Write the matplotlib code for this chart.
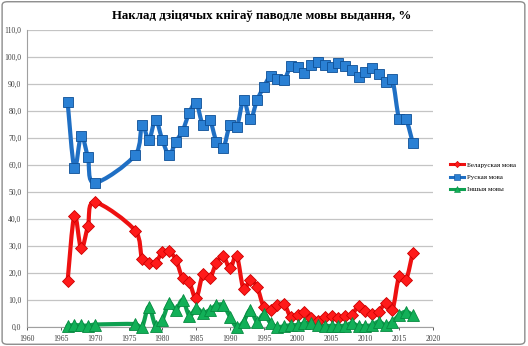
import numpy as np
import matplotlib.pyplot as plt
from matplotlib.patches import FancyBboxPatch, PathPatch
from matplotlib.path import Path
from matplotlib.ticker import FuncFormatter

plt.rcParams['font.family'] = ['Liberation Serif', 'DejaVu Serif']

# гады выдання
years = [1966, 1967, 1968, 1969, 1970, 1976, 1977, 1978, 1979, 1980,
         1981, 1982, 1983, 1984, 1985, 1986, 1987, 1988, 1989, 1990,
         1991, 1992, 1993, 1994, 1995, 1996, 1997, 1998, 1999, 2000,
         2001, 2002, 2003, 2004, 2005, 2006, 2007, 2008, 2009, 2010,
         2011, 2012, 2013, 2014, 2015, 2016, 2017]

# доля накладу, %
belarusian = [17.0, 41.2, 29.1, 37.4, 46.2, 35.7, 25.2, 23.8, 23.8, 27.7,
              28.0, 25.0, 18.0, 16.5, 10.6, 19.6, 18.0, 23.8, 26.3, 21.7,
              26.3, 14.0, 17.4, 14.9, 7.3, 6.3, 8.1, 8.5, 3.6, 4.4,
              5.7, 3.2, 2.3, 3.8, 4.0, 3.2, 4.0, 4.4, 7.8, 5.9,
              4.8, 5.6, 9.0, 6.3, 18.9, 17.4, 27.5]
russian = [83.4, 59.0, 70.9, 62.8, 53.4, 63.7, 75.0, 69.3, 76.7, 69.3,
           63.7, 68.6, 72.7, 79.4, 83.0, 74.8, 76.7, 68.6, 66.2, 74.8,
           74.0, 84.0, 76.9, 84.0, 89.0, 93.0, 92.0, 91.5, 96.7, 96.4,
           94.0, 97.0, 98.3, 97.0, 96.4, 97.6, 96.6, 95.2, 92.5, 94.6,
           95.8, 93.7, 90.9, 91.7, 76.9, 76.9, 68.3]
other = [0.5, 0.7, 0.6, 0.5, 0.9, 1.1, 0.0, 7.5, 0.5, 2.6,
         8.8, 6.3, 10.0, 4.2, 6.9, 5.3, 6.3, 8.1, 8.1, 3.8,
         0.0, 2.0, 6.3, 2.0, 4.8, 1.4, 0.0, 0.3, 0.7, 0.7,
         1.4, 1.4, 0.7, 0.4, 0.4, 0.4, 0.5, 1.4, 0.4, 0.4,
         0.7, 2.0, 0.7, 2.0, 4.4, 5.7, 4.4]

labels = ['Беларуская мова', 'Руская мова', 'Іншыя мовы']

# маштаб восяў у пікселях на адзінку (для згладжвання)
SX, SY = 406 / 60, 297 / 110


def smooth_path(xs, ys):
    """Згладжаная лінія праз пункты (бэзье, як у Excel)"""
    pts = np.column_stack([np.asarray(xs) * SX, np.asarray(ys) * SY]).astype(float)
    n = len(pts)
    verts = [pts[0]]
    codes = [Path.MOVETO]
    for i in range(n - 1):
        p0 = pts[max(i - 1, 0)]
        p1 = pts[i]
        p2 = pts[i + 1]
        p3 = pts[min(i + 2, n - 1)]
        seg = np.hypot(*(p2 - p1))
        t1 = (p2 - p0)
        t2 = (p3 - p1)
        # абмежаванне даўжыні датычных, каб не было выкідаў
        t1 = t1 / max(np.hypot(*t1), 1e-9) * min(np.hypot(*t1), 2 * seg)
        t2 = t2 / max(np.hypot(*t2), 1e-9) * min(np.hypot(*t2), 2 * seg)
        c1 = p1 + t1 / 6
        c2 = p2 - t2 / 6
        verts += [c1, c2, p2]
        codes += [Path.CURVE4] * 3
    verts = np.array(verts) / [SX, SY]
    return Path(verts, codes)


fig = plt.figure(figsize=(5.28, 3.46), dpi=100)
fig.patch.set_facecolor('white')

# рамка вакол дыяграмы
frame = FancyBboxPatch((0.004, 0.005), 0.99, 0.99, boxstyle='round,pad=0,rounding_size=0.01',
                       transform=fig.transFigure, fill=False, edgecolor='#8c8c8c', lw=1.0)
fig.patches.append(frame)

ax = fig.add_axes([27 / 528, 19 / 346, 406 / 528, 297 / 346])

series = [
    (belarusian, '#ee1111', 'D', 6.5, '#ff1a1a', '#cc0000'),
    (russian, '#1f6fc4', 's', 7.5, '#2a80d4', '#0e4f96'),
    (other, '#0ea050', '^', 8, '#12b058', '#078a40'),
]
for (vals, col, mk, ms, mfc, mec), lab in zip(series, labels):
    ax.add_patch(PathPatch(smooth_path(years, vals), fill=False, edgecolor=col,
                           lw=3.0, capstyle='round', joinstyle='round',
                           clip_on=False, zorder=3))
    ax.plot(years, vals, ls='none', marker=mk, ms=ms, mfc=mfc, mec=mec, mew=0.6,
            clip_on=False, zorder=4)
    # элемент легенды
    ax.plot([], [], color=col, lw=2.2, marker=mk, ms=ms * 0.5, mfc=mfc, mec=mec,
            mew=0.4, label=lab)

ax.set_xlim(1960, 2020)
ax.set_ylim(0, 110)
ax.set_xticks(range(1960, 2021, 5))
ax.set_yticks(range(0, 111, 10))
ax.yaxis.set_major_formatter(FuncFormatter(lambda v, p: f'{v:.1f}'.replace('.', ',')))
ax.tick_params(axis='both', labelsize=5.5, colors='#404040', length=2.5, width=0.6)
ax.tick_params(axis='y', length=0, pad=4)
ax.grid(axis='y', color='#c4c4c4', lw=0.9)
ax.set_axisbelow(True)
for side in ('top', 'right'):
    ax.spines[side].set_visible(False)
for side in ('left', 'bottom'):
    ax.spines[side].set_color('#a0a0a0')
    ax.spines[side].set_linewidth(0.8)

fig.text(0.495, 0.955, 'Наклад дзіцячых кнігаў паводле мовы выдання, %',
         ha='center', va='center', fontsize=9.3, fontweight='bold')

leg = ax.legend(loc='upper left', bbox_to_anchor=(450 / 528, 1 - 162 / 346),
                bbox_transform=fig.transFigure, frameon=False, fontsize=5,
                handlelength=2.0, handletextpad=0.4, labelspacing=0.9,
                borderaxespad=0, borderpad=0)

fig.savefig('out.png', dpi=100, facecolor='white')
